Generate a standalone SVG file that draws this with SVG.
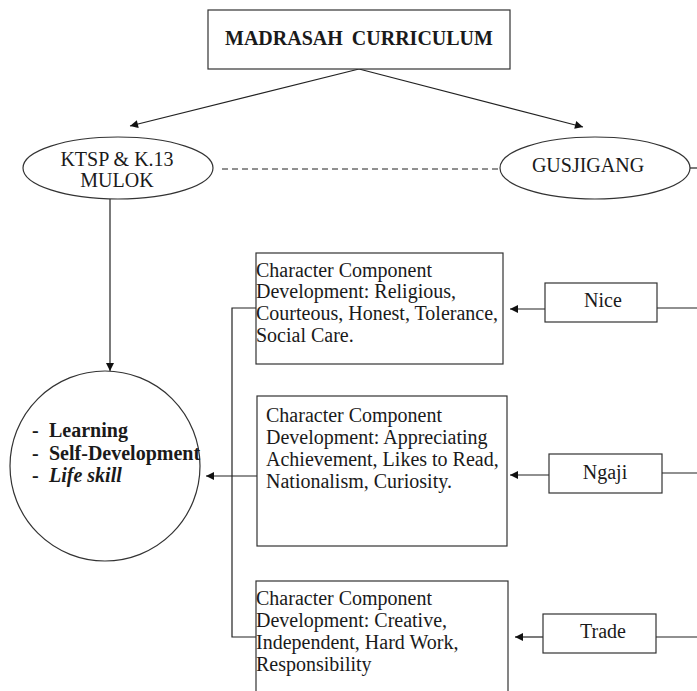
<svg xmlns="http://www.w3.org/2000/svg" width="697" height="691" viewBox="0 0 697 691">
<style>
text{font-family:"Liberation Serif","Times New Roman",serif;font-size:20px;fill:#1a1a1a}
.b{font-weight:bold}
.c{text-anchor:middle}
.shape{fill:#fff;stroke:#333;stroke-width:1.2}
.ln{stroke:#222;stroke-width:1.2;fill:none}
</style>
<defs>
<marker id="ah" viewBox="0 0 10 10" refX="10" refY="5" markerWidth="10" markerHeight="8" markerUnits="userSpaceOnUse" orient="auto">
<path d="M0,0 L10,5 L0,10 z" fill="#111"/>
</marker>
</defs>
<rect width="697" height="691" fill="#fff"/>
<g id="connectors">
<line class="ln" x1="359" y1="69" x2="130" y2="126" marker-end="url(#ah)"/>
<line class="ln" x1="359" y1="69" x2="583" y2="127" marker-end="url(#ah)"/>
<line class="ln" x1="222" y1="169" x2="500" y2="169" stroke-dasharray="6,4"/>
<line class="ln" x1="690" y1="168" x2="697" y2="168"/>
<line class="ln" x1="110" y1="199" x2="110" y2="371" marker-end="url(#ah)"/>
<polyline class="ln" points="256,308 232,308 232,637 256,637"/>
<line class="ln" x1="257" y1="476" x2="206" y2="476" marker-end="url(#ah)"/>
<line class="ln" x1="545" y1="309" x2="510" y2="309" marker-end="url(#ah)"/>
<line class="ln" x1="657" y1="308" x2="697" y2="308"/>
<line class="ln" x1="549" y1="475" x2="510" y2="475" marker-end="url(#ah)"/>
<line class="ln" x1="662" y1="473" x2="697" y2="473"/>
<line class="ln" x1="543" y1="637" x2="515" y2="637" marker-end="url(#ah)"/>
<line class="ln" x1="656" y1="637" x2="697" y2="637"/>
</g>
<g id="madrasah">
<rect class="shape" x="208" y="10" width="302" height="59"/>
<text class="b c" x="359" y="45" font-size="19" word-spacing="4">MADRASAH CURRICULUM</text>
</g>
<g id="ktsp">
<ellipse class="shape" cx="118" cy="168" rx="95" ry="31"/>
<text class="c" x="117" y="166">KTSP &amp; K.13</text>
<text class="c" x="117" y="187">MULOK</text>
</g>
<g id="gusjigang">
<ellipse class="shape" cx="595" cy="168" rx="95" ry="31"/>
<text class="c" x="588" y="172">GUSJIGANG</text>
</g>
<g id="outcome">
<ellipse class="shape" cx="105" cy="466" rx="95" ry="95"/>
<text class="b" x="32" y="437">-</text><text class="b" x="49" y="437">Learning</text>
<text class="b" x="32" y="460">-</text><text class="b" x="49" y="460">Self-Development</text>
<text class="b" x="32" y="482">-</text><text class="b" x="49" y="482" font-style="italic">Life skill</text>
</g>
<g id="box1">
<rect class="shape" x="256" y="253" width="247" height="111"/>
<text x="256" y="277">Character Component</text>
<text x="256" y="298">Development: Religious,</text>
<text x="256" y="320">Courteous, Honest, Tolerance,</text>
<text x="256" y="342">Social Care.</text>
</g>
<g id="box2">
<rect class="shape" x="257" y="396" width="250" height="150"/>
<text x="266" y="422">Character Component</text>
<text x="266" y="444">Development: Appreciating</text>
<text x="266" y="466">Achievement, Likes to Read,</text>
<text x="266" y="488">Nationalism, Curiosity.</text>
</g>
<g id="box3">
<rect class="shape" x="256" y="581" width="252" height="120"/>
<text x="256" y="605">Character Component</text>
<text x="256" y="627">Development: Creative,</text>
<text x="256" y="649">Independent, Hard Work,</text>
<text x="256" y="671">Responsibility</text>
</g>
<g id="nice">
<rect class="shape" x="545" y="283" width="112" height="39"/>
<text class="c" x="603" y="307">Nice</text>
</g>
<g id="ngaji">
<rect class="shape" x="549" y="454" width="113" height="39"/>
<text class="c" x="605" y="479">Ngaji</text>
</g>
<g id="trade">
<rect class="shape" x="543" y="614" width="113" height="39"/>
<text class="c" x="603" y="638">Trade</text>
</g>
</svg>
